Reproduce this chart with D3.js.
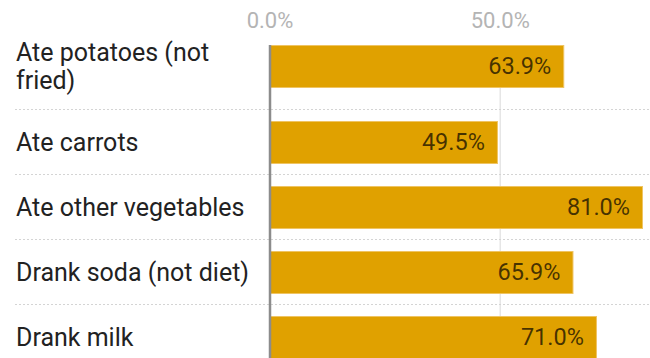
<!DOCTYPE html>
<html>
<head>
<meta charset="utf-8">
<script src="https://cdn.jsdelivr.net/npm/d3@7"></script>
<style>
  html, body { margin: 0; padding: 0; background: #fff; }
  svg { display: block; font-family: Roboto, "Noto Sans", sans-serif; }
</style>
</head>
<body>
<svg id="chart" width="650" height="358"></svg>
<script>
// Share of respondents per food / drink item (percent)
const categories = [
  ["Ate potatoes (not", "fried)"],
  ["Ate carrots"],
  ["Ate other vegetables"],
  ["Drank soda (not diet)"],
  ["Drank milk"]
];
const values = [63.9, 49.5, 81.0, 65.9, 71.0];
const tickValues = [0, 50];

const svg = d3.select("#chart");
const W = 650, H = 358;

const x = d3.scaleLinear().domain([0, 81]).range([270, 643]);
const fmt = v => d3.format(".1f")(v) + "%";

// Row layout: each row grows with the number of label lines
const barH = 42, padTop = 12, baseRow = 65, extraLine = 11, firstTop = 33;
const rowHeights = categories.map(c => baseRow + (c.length - 1) * extraLine);
const rowTops = rowHeights.map((h, i) => firstTop + d3.sum(rowHeights.slice(0, i)));
const rows = categories.map((c, i) => ({
  lines: c, value: values[i], top: rowTops[i], h: rowHeights[i]
}));

// Grid lines (behind bars)
svg.append("g").selectAll("line")
  .data(tickValues.filter(t => t !== 0))
  .join("line")
  .attr("x1", d => x(d)).attr("x2", d => x(d))
  .attr("y1", firstTop + padTop).attr("y2", H)
  .attr("stroke", "#e6e6e6").attr("stroke-width", 1.5);

// Dotted row separators
svg.append("g").selectAll("line")
  .data(rows.slice(0, -1))
  .join("line")
  .attr("x1", 15).attr("x2", W)
  .attr("y1", d => d.top + d.h + 0.5).attr("y2", d => d.top + d.h + 0.5)
  .attr("stroke", "#d4d4d4").attr("stroke-width", 1.2)
  .attr("stroke-dasharray", "2,2");

// Tick labels
svg.append("g").selectAll("text")
  .data(tickValues)
  .join("text")
  .attr("x", d => x(d)).attr("y", 28)
  .attr("text-anchor", "middle")
  .attr("font-size", 22)
  .attr("fill", "#b4b4b4")
  .text(d => fmt(d));

// Bars
svg.append("g").selectAll("rect")
  .data(rows)
  .join("rect")
  .attr("x", x(0))
  .attr("y", d => d.top + padTop + 0.5)
  .attr("width", d => x(d.value) - x(0) - 0.5)
  .attr("height", barH)
  .attr("fill", "#e0a100")
  .attr("stroke", "#efc463").attr("stroke-width", 1);

// Zero line
svg.append("line")
  .attr("x1", x(0)).attr("x2", x(0))
  .attr("y1", firstTop + padTop).attr("y2", H)
  .attr("stroke", "#8c8c8c").attr("stroke-width", 2.5);

// Value labels inside bar ends
svg.append("g").selectAll("text")
  .data(rows)
  .join("text")
  .attr("x", d => x(d.value) - 13)
  .attr("y", d => d.top + padTop + barH / 2)
  .attr("dy", "0.36em")
  .attr("text-anchor", "end")
  .attr("font-size", 23.5)
  .attr("fill", "rgba(0,0,0,0.7)")
  .text(d => fmt(d.value));

// Category labels
const lineH = 28;
const lbl = svg.append("g").selectAll("text")
  .data(rows)
  .join("text")
  .attr("x", 16)
  .attr("font-size", 25)
  .attr("fill", "#222");
lbl.each(function(d) {
  const cy = d.top + padTop + barH / 2;
  const y0 = cy - (d.lines.length - 1) * lineH / 2;
  d3.select(this).selectAll("tspan")
    .data(d.lines)
    .join("tspan")
    .attr("x", 16)
    .attr("y", (l, j) => y0 + j * lineH)
    .attr("dy", "0.36em")
    .text(l => l);
});
</script>
</body>
</html>
